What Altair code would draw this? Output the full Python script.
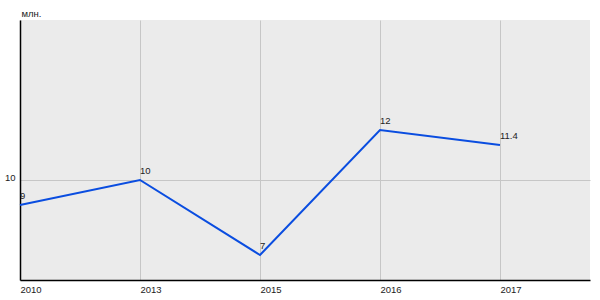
import altair as alt
import pandas as pd

years = ["2010", "2013", "2015", "2016", "2017"]
values = [9, 10, 7, 12, 11.4]
labels = ["9", "10", "7", "12", "11.4"]

df = pd.DataFrame({"idx": list(range(len(years))), "year": years, "value": values, "label": labels})

label_expr = "[" + ",".join(f"'{y}'" for y in years) + "][datum.value]"

FS = 9.5
FONT = "Liberation Sans"
TXT = "#222222"

x = alt.X("idx:Q", scale=alt.Scale(domain=[0, 4.75], nice=False, zero=False),
          axis=alt.Axis(values=list(range(len(years))), labelExpr=label_expr, title=None,
                        grid=True, gridColor="#c6c6c6", gridWidth=1, ticks=False,
                        domainColor="#000000", domainWidth=1.5, labelAlign="left",
                        labelBaseline="top", labelPadding=4, labelFontSize=FS,
                        labelColor=TXT, labelFont=FONT, labelFlush=False))
y = alt.Y("value:Q", scale=alt.Scale(domain=[6, 16.4], nice=False, zero=False),
          axis=alt.Axis(values=[10], title="млн.", titleAngle=0, titleAlign="left",
                        titleBaseline="alphabetic", titleX=1, titleY=-4, titleFontSize=FS,
                        titleFontWeight="normal", titleFont=FONT, titleColor=TXT,
                        grid=True, gridColor="#c6c6c6", gridWidth=1, ticks=False,
                        domainColor="#000000", domainWidth=1.5, labelBaseline="alphabetic",
                        labelPadding=5, labelFontSize=FS, labelColor=TXT,
                        labelFont=FONT))

base = alt.Chart(df)
line = base.mark_line(color="#0a4de0", strokeWidth=2).encode(x=x, y=y)
text = base.mark_text(align="left", baseline="alphabetic", dy=-6, fontSize=FS,
                      font=FONT, color=TXT).encode(x=x, y=y, text="label:N")

chart = (line + text).properties(
    width=570, height=260,
    background="white",
    autosize=alt.AutoSizeParams(type="none"),
    padding={"left": 20, "top": 20, "right": 10, "bottom": 20},
).configure_view(fill="#ebebeb", stroke=None)

chart.save("out.html", embed_options={"renderer": "svg", "actions": False})
